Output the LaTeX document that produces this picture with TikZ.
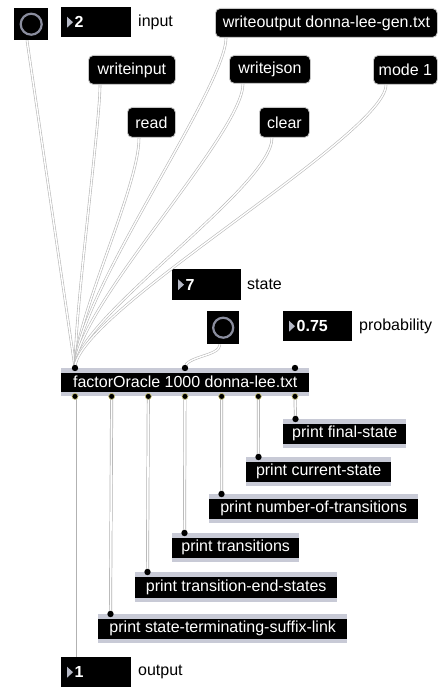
\documentclass[tikz,border=0pt]{standalone}
\usepackage{fontspec}
\setmainfont{Liberation Sans}
\newcommand\uifont{\fontsize{16}{19}\selectfont}
\definecolor{strip}{HTML}{C8CAD6}
\definecolor{ring}{HTML}{8A8D9E}
\definecolor{tri}{HTML}{B4B7C4}
\definecolor{cordgray}{HTML}{B8B8B8}
\definecolor{portrim}{HTML}{C8C070}
\tikzset{
  msg/.style={fill=black, draw=gray!45, line width=0.8pt, rounded corners=5pt, text=white,
    inner sep=0pt, anchor=north west, font=\uifont},
  obj/.style={fill=strip, inner sep=0pt, anchor=north west, text=white, font=\uifont,
    path picture={\fill[black] ([yshift=-4.5pt]path picture bounding box.north west)
      rectangle ([yshift=4.5pt]path picture bounding box.south east);}},
  numbox/.style={fill=black, inner sep=0pt, anchor=north west},
  numtxt/.style={text=white, inner sep=0pt, anchor=west, font=\uifont\bfseries},
  lbl/.style={inner sep=0pt, anchor=west, font=\uifont},
  bangbox/.style={fill=black, inner sep=0pt, anchor=north west},
  cord/.style={draw=cordgray, double=white, double distance=1.4pt, line width=0.6pt},
  bigcord/.style={draw=gray!60, double=white, double distance=1.6pt, line width=0.7pt},
}
\newcommand\numtri[1]{\fill[tri] ([xshift=6pt,yshift=-5.5pt]#1.west) -- ([xshift=6pt,yshift=5.5pt]#1.west) -- ([xshift=12pt]#1.west) -- cycle;}
\newcommand\inport[1]{\fill[black] (#1) circle[radius=3.2pt];}
\newcommand\outport[1]{\fill[black, draw=portrim, line width=0.6pt] (#1) circle[radius=3pt];}
\begin{document}
\begin{tikzpicture}[x=1pt, y=-1pt]
\useasboundingbox (0,0) rectangle (439,687);
% ---------- top objects
\node[bangbox, minimum width=34pt, minimum height=32pt] (bang1) at (14,8) {};
\draw[ring, line width=2.2pt] (bang1.center) circle[radius=10.5pt];
\node[numbox, minimum width=70pt, minimum height=30pt] (num2) at (61,7) {};
\numtri{num2}
\node[numtxt] (num2t) at ([xshift=13.5pt]num2.west) {2};
\node[lbl] (inputlbl) at (138,22) {input};

\node[msg, minimum width=87pt, minimum height=29pt] (winput) at (88,55) {writeinput};
\node[msg, minimum width=48pt, minimum height=30pt] (read) at (127,107) {read};
\node[msg, minimum width=222pt, minimum height=29pt] (wout) at (215,8) {writeoutput donna-lee-gen.txt};
\node[msg, minimum width=81pt, minimum height=28pt] (wjson) at (229,55) {writejson};
\node[msg, minimum width=50pt, minimum height=30pt] (clear) at (259,107) {clear};
\node[msg, minimum width=64pt, minimum height=29pt] (mode) at (373,55) {mode 1};

% ---------- middle
\node[numbox, minimum width=69pt, minimum height=31pt] (num7) at (172,269) {};
\numtri{num7}
\node[numtxt] (num7t) at ([xshift=13.5pt]num7.west) {7};
\node[lbl] (statelbl) at (247,284) {state};

\node[bangbox, minimum width=32pt, minimum height=33pt] (bang2) at (207,311) {};
\draw[ring, line width=2.2pt] (bang2.center) circle[radius=10pt];

\node[numbox, minimum width=69pt, minimum height=30pt] (prob) at (283,311) {};
\numtri{prob}
\node[numtxt] (probt) at ([xshift=13.5pt]prob.west) {0.75};
\node[lbl] (problbl) at (359,326) {probability};

\node[obj, minimum width=248pt, minimum height=28pt] (fo) at (61,368) {factorOracle 1000 donna-lee.txt};

% ---------- prints
\node[obj, minimum width=123pt, minimum height=29pt] (pfs) at (283,419) {print final-state};
\node[obj, minimum width=145pt, minimum height=29pt] (pcs) at (246,457) {print current-state};
\node[obj, minimum width=209pt, minimum height=29pt] (pnt) at (209,494) {print number-of-transitions};
\node[obj, minimum width=127pt, minimum height=29pt] (pt) at (172,533) {print transitions};
\node[obj, minimum width=202pt, minimum height=30pt] (ptes) at (135,572) {print transition-end-states};
\node[obj, minimum width=249pt, minimum height=29pt] (psl) at (98,614) {print state-terminating-suffix-link};

\node[numbox, minimum width=70pt, minimum height=30pt] (out) at (61,657) {};
\numtri{out}
\node[numtxt] (outt) at ([xshift=13.5pt]out.west) {1};
\node[lbl] (outlbl) at (138,672) {output};

% ---------- coordinates
\coordinate (o-bang1) at ([xshift=13pt]bang1.south west);
\coordinate (o-num2) at ([xshift=14pt]num2.south west);
\coordinate (o-winput) at ([xshift=12pt]winput.south west);
\coordinate (o-read) at ([xshift=12pt]read.south west);
\coordinate (o-wout) at ([xshift=11pt]wout.south west);
\coordinate (o-wjson) at ([xshift=14pt]wjson.south west);
\coordinate (o-clear) at ([xshift=13pt]clear.south west);
\coordinate (o-mode) at ([xshift=13pt]mode.south west);
\coordinate (o-num7) at ([xshift=13pt]num7.south west);
\coordinate (o-bang2) at ([xshift=13pt]bang2.south west);
\coordinate (o-prob) at ([xshift=12pt]prob.south west);
\coordinate (fi1) at ([xshift=14pt]fo.north west);
\coordinate (fi2) at ([xshift=124pt]fo.north west);
\coordinate (fi3) at ([xshift=234pt]fo.north west);
\foreach \i/\d in {1/14,2/50.67,3/87.33,4/124,5/160.67,6/197.33,7/234}{
  \coordinate (fo\i) at ([xshift=\d pt]fo.south west);
}
\foreach \n in {pfs,pcs,pnt,pt,ptes,psl}{
  \coordinate (i-\n) at ([xshift=12.5pt]\n.north west);
}
\coordinate (i-out) at ([xshift=14pt]out.north west);

% ---------- cords (upper fan)
\draw[cord] (o-bang1) -- (fi1);
\draw[cord] (o-num2) -- (fi1);
\draw[cord] (o-winput) .. controls +(0,40) and +(0,-60) .. (fi1);
\draw[cord] (o-read) .. controls +(0,50) and +(0,-50) .. (fi1);
\draw[cord] (o-wout) .. controls +(0,50) and +(0,-70) .. (fi1);
\draw[cord] (o-wjson) .. controls +(0,50) and +(0,-60) .. (fi1);
\draw[cord] (o-clear) .. controls +(0,50) and +(0,-50) .. (fi1);
\draw[cord] (o-mode) .. controls +(0,50) and +(0,-55) .. (fi1);
\draw[cord] (o-num7) -- (fi2);
\draw[cord] (o-bang2) .. controls +(0,12) and +(0,-12) .. (fi2);
\draw[cord] (o-prob) -- (fi3);

% ---------- cords (outputs)
\draw[bigcord] (fo1) -- (i-out);
\draw[bigcord] (fo2) -- (i-psl);
\draw[bigcord] (fo3) -- (i-ptes);
\draw[bigcord] (fo4) -- (i-pt);
\draw[bigcord] (fo5) -- (i-pnt);
\draw[bigcord] (fo6) -- (i-pcs);
\draw[bigcord] (fo7) -- (i-pfs);

% ---------- ports
\inport{fi1}\inport{fi2}\inport{fi3}
\foreach \i in {1,...,7}{\outport{fo\i}}
\foreach \n in {pfs,pcs,pnt,pt,ptes,psl}{\inport{i-\n}}
\end{tikzpicture}
\end{document}
